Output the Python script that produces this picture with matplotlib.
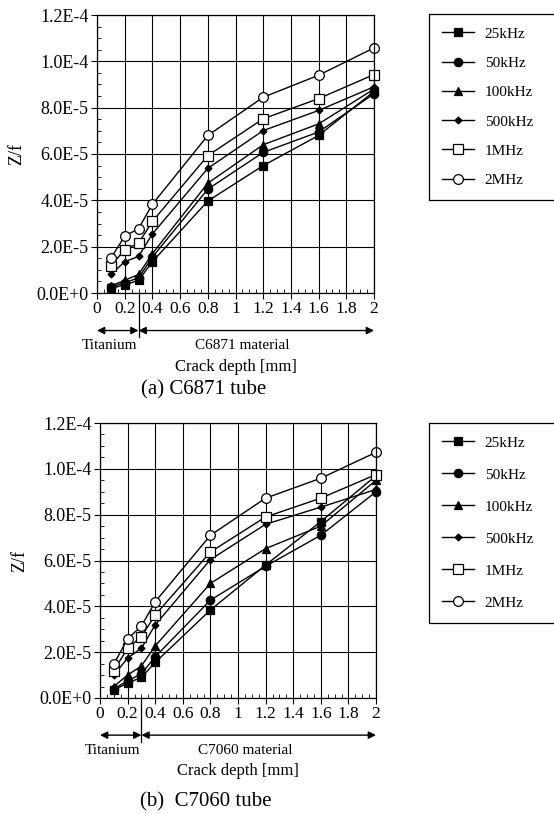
import matplotlib
matplotlib.use('Agg')
import matplotlib.pyplot as plt
import matplotlib.transforms as mtransforms
from matplotlib.ticker import MultipleLocator, FixedLocator

plt.rcParams['font.family'] = ['Liberation Serif', 'DejaVu Serif']

# crack depths [mm]
depth = [0.1, 0.2, 0.3, 0.4, 0.8, 1.2, 1.6, 2.0]
labels = ['25kHz', '50kHz', '100kHz', '500kHz', '1MHz', '2MHz']

# Z/f values, in units of 1E-5
c6871_25k = [0.20, 0.35, 0.55, 1.35, 3.97, 5.50, 6.80, 8.70]
c6871_50k = [0.25, 0.45, 0.65, 1.55, 4.48, 6.07, 6.95, 8.60]
c6871_100k = [0.30, 0.55, 0.80, 1.70, 4.74, 6.40, 7.30, 8.80]
c6871_500k = [0.80, 1.35, 1.58, 2.55, 5.38, 7.01, 7.88, 8.90]
c6871_1m = [1.17, 1.87, 2.15, 3.09, 5.93, 7.52, 8.39, 9.43]
c6871_2m = [1.50, 2.45, 2.78, 3.83, 6.80, 8.45, 9.40, 10.58]

c7060_25k = [0.35, 0.65, 0.90, 1.55, 3.84, 5.80, 7.70, 9.70]
c7060_50k = [0.40, 0.75, 1.05, 1.80, 4.27, 5.75, 7.10, 9.00]
c7060_100k = [0.50, 1.00, 1.40, 2.27, 5.00, 6.52, 7.50, 9.50]
c7060_500k = [1.00, 1.74, 2.17, 3.19, 6.04, 7.58, 8.33, 9.10]
c7060_1m = [1.20, 2.17, 2.68, 3.62, 6.37, 7.90, 8.72, 9.75]
c7060_2m = [1.48, 2.58, 3.14, 4.20, 7.10, 8.72, 9.59, 10.72]

ytick_vals = [0, 2e-5, 4e-5, 6e-5, 8e-5, 1e-4, 1.2e-4]
ytick_labels = ['0.0E+0', '2.0E-5', '4.0E-5', '6.0E-5', '8.0E-5', '1.0E-4', '1.2E-4']
xtick_vals = [0, 0.2, 0.4, 0.6, 0.8, 1.0, 1.2, 1.4, 1.6, 1.8, 2.0]
xtick_labels = ['0', '0.2', '0.4', '0.6', '0.8', '1', '1.2', '1.4', '1.6', '1.8', '2']

styles = [
    dict(marker='s', mfc='black', ms=5.5),
    dict(marker='o', mfc='black', ms=6),
    dict(marker='^', mfc='black', ms=6),
    dict(marker='D', mfc='black', ms=3.5),
    dict(marker='s', mfc='white', ms=7),
    dict(marker='o', mfc='white', ms=7),
]

W, H = 554, 814


def fx(px):
    return px / W


def fy(py):
    return 1 - py / H


def draw_panel(ax, series, material, title, title_xy):
    lines = []
    for vals, st, lab in zip(series, styles, labels):
        ln, = ax.plot(depth, [v * 1e-5 for v in vals], color='black', lw=1,
                      mec='black', mew=0.9, label=lab, clip_on=False, **st)
        lines.append(ln)
    ax.set_xlim(0, 2)
    ax.set_ylim(0, 1.2e-4)
    ax.xaxis.set_major_locator(FixedLocator(xtick_vals))
    ax.set_xticklabels(xtick_labels)
    ax.xaxis.set_minor_locator(MultipleLocator(0.05))
    ax.yaxis.set_major_locator(FixedLocator(ytick_vals))
    ax.set_yticklabels(ytick_labels)
    ax.yaxis.set_minor_locator(MultipleLocator(0.5e-5))
    ax.tick_params(which='major', direction='out', length=4, width=0.8,
                   labelsize=12.5, pad=2)
    ax.tick_params(axis='y', labelsize=13)
    ax.tick_params(which='minor', direction='in', length=3, width=0.6)
    ax.grid(True, which='major', color='black', lw=0.8)
    for s in ax.spines.values():
        s.set_linewidth(0.9)
    ax.set_ylabel('Z/f', fontsize=13, labelpad=8)

    trans = mtransforms.blended_transform_factory(ax.transData, ax.transAxes)
    ya = -0.135
    ax.plot([0.3, 0.3], [0, -0.16], color='black', lw=0.9,
            transform=trans, clip_on=False)
    arrow = dict(arrowstyle='<|-|>', color='black', lw=1, shrinkA=0,
                 shrinkB=0, mutation_scale=11)
    ax.annotate('', xy=(0, ya), xytext=(0.3, ya), xycoords=trans,
                textcoords=trans, arrowprops=arrow)
    ax.annotate('', xy=(0.3, ya), xytext=(2.0, ya), xycoords=trans,
                textcoords=trans, arrowprops=arrow)
    ax.text(0.09, -0.19, 'Titanium', transform=trans, ha='center',
            va='center', fontsize=11)
    ax.text(1.05, -0.19, material + ' material', transform=trans,
            ha='center', va='center', fontsize=11)
    ax.text(1.0, -0.265, 'Crack depth [mm]', transform=trans,
            ha='center', va='center', fontsize=12)
    fig.text(fx(title_xy[0]), fy(title_xy[1]), title, ha='center',
             va='center', fontsize=15)
    return lines


fig = plt.figure(figsize=(W / 100, H / 100), dpi=100)
ax1 = fig.add_axes([fx(97), fy(293), fx(374) - fx(97), fy(15) - fy(293)])
ax2 = fig.add_axes([fx(100), fy(698), fx(376) - fx(100), fy(423) - fy(698)])

h1 = draw_panel(ax1, [c6871_25k, c6871_50k, c6871_100k, c6871_500k,
                      c6871_1m, c6871_2m], 'C6871', '(a) C6871 tube', (204, 390))
h2 = draw_panel(ax2, [c7060_25k, c7060_50k, c7060_100k, c7060_500k,
                      c7060_1m, c7060_2m], 'C7060', '(b)  C7060 tube', (206, 802))

for handles, top, spacing in [(h1, 14, 1.02), (h2, 423, 1.2)]:
    leg = fig.legend(handles=handles, loc='upper left',
                     bbox_to_anchor=(fx(429), fy(top) - 0.3, fx(560) - fx(429), 0.3),
                     mode='expand', borderaxespad=0, fontsize=11,
                     frameon=True, fancybox=False, edgecolor='black',
                     framealpha=1, handlelength=2.1, handletextpad=0.7,
                     labelspacing=spacing, borderpad=0.85, markerscale=1.0)
    leg.get_frame().set_linewidth(0.9)

fig.savefig('out.png', dpi=100)
